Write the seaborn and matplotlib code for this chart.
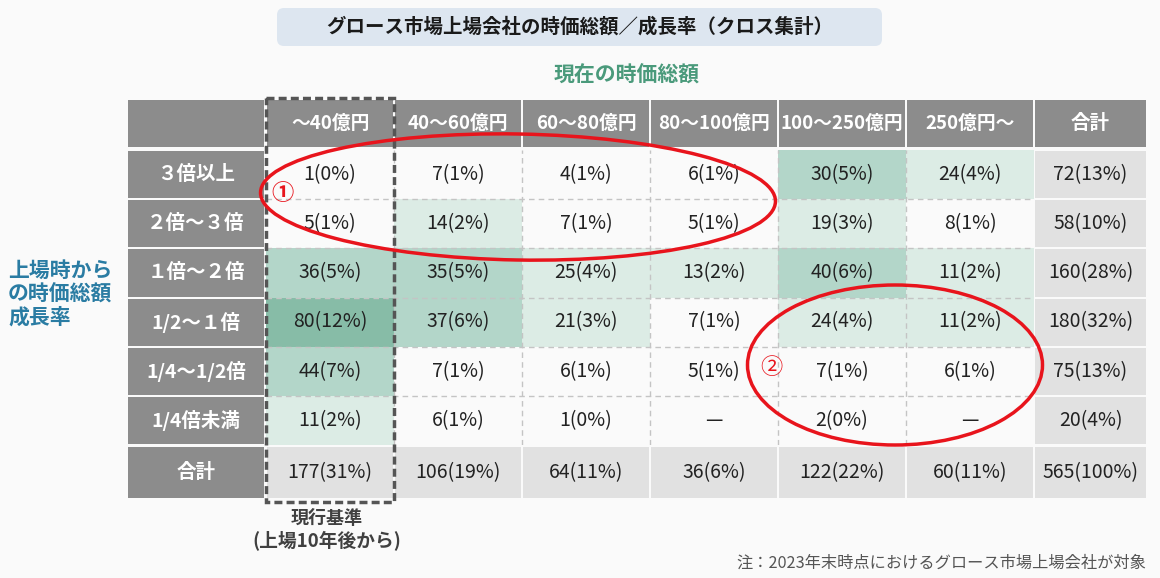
import numpy as np
import pandas as pd
import matplotlib
import matplotlib.pyplot as plt
import seaborn as sns
from matplotlib.colors import ListedColormap, BoundaryNorm
from matplotlib.patches import Rectangle, Ellipse, FancyBboxPatch

# data
col_labels = ['～40億円', '40～60億円', '60～80億円', '80～100億円', '100～250億円', '250億円～']
row_labels = ['３倍以上', '２倍～３倍', '１倍～２倍', '1/2～１倍', '1/4～1/2倍', '1/4倍未満']
counts = [
    [1, 7, 4, 6, 30, 24],
    [5, 14, 7, 5, 19, 8],
    [36, 35, 25, 13, 40, 11],
    [80, 37, 21, 7, 24, 11],
    [44, 7, 6, 5, 7, 6],
    [11, 6, 1, 0, 2, 0],
]
pcts = [
    [0, 1, 1, 1, 5, 4],
    [1, 2, 1, 1, 3, 1],
    [5, 5, 4, 2, 6, 2],
    [12, 6, 3, 1, 4, 2],
    [7, 1, 1, 1, 1, 1],
    [2, 1, 0, 0, 0, 0],
]
row_totals = ['72(13%)', '58(10%)', '160(28%)', '180(32%)', '75(13%)', '20(4%)']
col_totals = ['177(31%)', '106(19%)', '64(11%)', '36(6%)', '122(22%)', '60(11%)']
grand_total = '565(100%)'

sns.set_style('white')
plt.rcParams['font.family'] = ['Noto Sans CJK JP', 'DejaVu Sans']

W, H = 1160, 578
fig = plt.figure(figsize=(W / 100, H / 100), dpi=100)
fig.patch.set_facecolor('#fafafa')


def frac(x0, y0, x1, y1):
    return [x0 / W, 1 - y1 / H, (x1 - x0) / W, (y1 - y0) / H]


# table geometry (pixels)
hx0, hx1 = 266, 1034
hy0, hy1 = 150, 445
c_edges = np.linspace(hx0, hx1, 7)
r_edges = np.linspace(hy0, hy1, 7)
lab_x0, lab_x1 = 128, 264
tot_x0, tot_x1 = 1035, 1146
head_y0, head_y1 = 100, 147
trow_y0, trow_y1 = 447, 498
fs = 14

df = pd.DataFrame(counts, index=row_labels, columns=col_labels)
annot = np.array([[f'{c}({p}%)' if c > 0 else '—' for c, p in zip(cr, pr)]
                  for cr, pr in zip(counts, pcts)])

cmap = ListedColormap(['#fafafa', '#dcece5', '#b3d6c9', '#87bca7'])
norm = BoundaryNorm([0, 10, 30, 60, 1000], cmap.N)

ax_hm = fig.add_axes(frac(hx0, hy0, hx1, hy1))
sns.heatmap(df, ax=ax_hm, cmap=cmap, norm=norm, annot=annot, fmt='', cbar=False,
            xticklabels=False, yticklabels=False,
            annot_kws=dict(size=fs, color='#222222'))
for k in range(1, 6):
    ax_hm.axvline(k, color='#c4c4c4', lw=1, ls=(0, (4, 3)))
    ax_hm.axhline(k, color='#c4c4c4', lw=1, ls=(0, (4, 3)))

# overlay axes in pixel coords
ax = fig.add_axes([0, 0, 1, 1])
ax.set_xlim(0, W)
ax.set_ylim(H, 0)
ax.axis('off')
ax.patch.set_alpha(0)

hdr_gray = '#8c8c8c'
tot_gray = '#e1e1e1'

# header row
ax.add_patch(Rectangle((lab_x0, head_y0), lab_x1 - lab_x0, head_y1 - head_y0, fc=hdr_gray, ec='none'))
for i, lab in enumerate(col_labels):
    x0, x1 = c_edges[i] + 1, c_edges[i + 1] - 1
    ax.add_patch(Rectangle((x0, head_y0), x1 - x0, head_y1 - head_y0, fc=hdr_gray, ec='none'))
    ax.text((x0 + x1) / 2, (head_y0 + head_y1) / 2, lab, ha='center', va='center',
            color='white', fontsize=13.5, fontweight='bold')
ax.add_patch(Rectangle((tot_x0, head_y0), tot_x1 - tot_x0, head_y1 - head_y0, fc=hdr_gray, ec='none'))
ax.text((tot_x0 + tot_x1) / 2, (head_y0 + head_y1) / 2, '合計', ha='center', va='center',
        color='white', fontsize=fs, fontweight='bold')

# row labels and row totals
for j, lab in enumerate(row_labels):
    y0, y1 = r_edges[j] + 1, r_edges[j + 1] - 1
    ax.add_patch(Rectangle((lab_x0, y0), lab_x1 - lab_x0, y1 - y0, fc=hdr_gray, ec='none'))
    ax.text((lab_x0 + lab_x1) / 2, (y0 + y1) / 2, lab, ha='center', va='center',
            color='white', fontsize=fs, fontweight='bold')
    ax.add_patch(Rectangle((tot_x0, y0), tot_x1 - tot_x0, y1 - y0, fc=tot_gray, ec='none'))
    ax.text((tot_x0 + tot_x1) / 2, (y0 + y1) / 2, row_totals[j], ha='center', va='center',
            color='#222222', fontsize=fs)

# total row
ax.add_patch(Rectangle((lab_x0, trow_y0), lab_x1 - lab_x0, trow_y1 - trow_y0, fc=hdr_gray, ec='none'))
ax.text((lab_x0 + lab_x1) / 2, (trow_y0 + trow_y1) / 2, '合計', ha='center', va='center',
        color='white', fontsize=fs, fontweight='bold')
for i, lab in enumerate(col_totals):
    x0, x1 = c_edges[i] + 1, c_edges[i + 1] - 1
    ax.add_patch(Rectangle((x0, trow_y0), x1 - x0, trow_y1 - trow_y0, fc=tot_gray, ec='none'))
    ax.text((x0 + x1) / 2, (trow_y0 + trow_y1) / 2, lab, ha='center', va='center',
            color='#222222', fontsize=fs)
ax.add_patch(Rectangle((tot_x0, trow_y0), tot_x1 - tot_x0, trow_y1 - trow_y0, fc=tot_gray, ec='none'))
ax.text((tot_x0 + tot_x1) / 2, (trow_y0 + trow_y1) / 2, grand_total, ha='center', va='center',
        color='#222222', fontsize=fs)

# title box
ax.add_patch(FancyBboxPatch((277, 8), 605, 38, boxstyle='round,pad=0,rounding_size=7',
                            fc='#dde6f0', ec='none'))
ax.text(580, 27, 'グロース市場上場会社の時価総額／成長率（クロス集計）', ha='center', va='center',
        fontsize=14, fontweight='bold', color='#1a1a1a')

ax.text(627, 75, '現在の時価総額', ha='center', va='center', fontsize=15,
        fontweight='bold', color='#4a9a7b')
ax.text(8, 294, '上場時から\nの時価総額\n成長率', ha='left', va='center', fontsize=15,
        fontweight='bold', color='#2a7ca3', linespacing=1.15)

# current standard column box
ax.add_patch(Rectangle((c_edges[0], 98), c_edges[1] - c_edges[0], 404, fill=False,
                       ec='#555555', lw=2.5, ls=(0, (2.3, 1.2))))
ccx = (c_edges[0] + c_edges[1]) / 2 - 3
ax.text(ccx, 518, '現行基準', ha='center', va='center', fontsize=13, fontweight='bold', color='#404040')
ax.text(ccx, 541, '(上場10年後から)', ha='center', va='center', fontsize=13.5, fontweight='bold',
        color='#404040')

# red highlight ellipses
ax.add_patch(Ellipse((518, 197), 515, 126, angle=1, fill=False, ec='#e8141c', lw=2.5))
ax.text(282, 194, '①', ha='center', va='center', fontsize=16, fontweight='bold', color='#e8141c')
ax.add_patch(Ellipse((895, 365), 295, 160, angle=0, fill=False, ec='#e8141c', lw=2.5))
ax.text(771, 367, '②', ha='center', va='center', fontsize=16, color='#e8141c')

ax.text(1146, 563, '注：2023年末時点におけるグロース市場上場会社が対象', ha='right', va='center',
        fontsize=11.7, color='#555555')

fig.savefig('out.png', dpi=100, facecolor=fig.get_facecolor())
